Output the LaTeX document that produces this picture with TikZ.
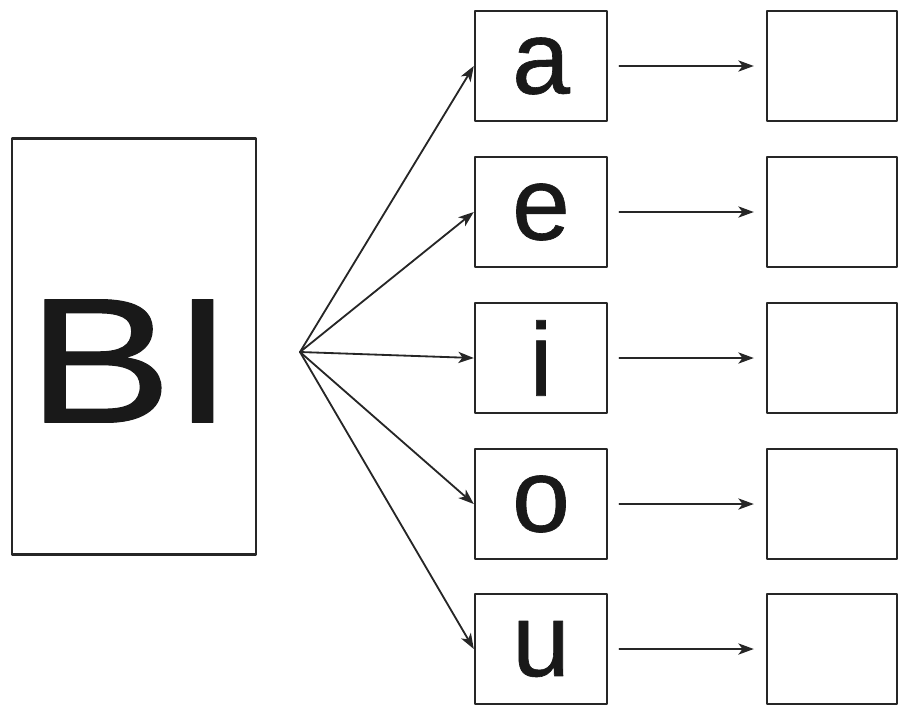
\documentclass[tikz,border=0pt]{standalone}
\usepackage{fontspec}
\setmainfont{Liberation Sans}
\newfontfamily\heavysans[FakeBold=0.6]{Liberation Sans}
\usetikzlibrary{arrows.meta,positioning}

\begin{document}
\begin{tikzpicture}[
  x=0.025cm,y=-0.025cm,
  line cap=round,
  line join=round,
  ink/.style={black!90},
  bigbox/.style={draw=black!85,line width=1.9pt,minimum width=6.1cm,
    minimum height=10.4cm,inner sep=0pt},
  vowelbox/.style={draw=black!85,line width=1.7pt,minimum width=3.3cm,
    minimum height=2.75cm,inner sep=0pt,
    font=\heavysans\fontsize{74}{80}\selectfont,text=black!90},
  emptybox/.style={draw=black!85,line width=1.7pt,minimum width=3.25cm,
    minimum height=2.75cm,inner sep=0pt},
  fanarrow/.style={black!85,line width=1.3pt,
    -{Stealth[length=11pt,width=8pt,inset=3pt]}},
  shortarrow/.style={fanarrow,shorten <=0.28cm,shorten >=0.3cm}
]
\path[use as bounding box] (0,0) rectangle (898,705);

% left block
\node[bigbox] (bi) at (134,346.5) {};
\node[ink,xscale=1.22,font=\heavysans\fontsize{127}{130}\selectfont]
  (bitext) at (130,361) {BI};
\coordinate (hub) at (300,352);

% vowel boxes
\node[vowelbox] (va) at (541,66)  {a};
\node[vowelbox] (ve) at (541,212) {e};
\node[vowelbox] (vi) at (541,358) {i};
\node[vowelbox] (vo) at (541,504) {o};
\node[vowelbox] (vu) at (541,649) {u};

% empty answer boxes
\node[emptybox] (ra) at (832,66)  {};
\node[emptybox] (re) at (832,212) {};
\node[emptybox] (ri) at (832,358) {};
\node[emptybox] (ro) at (832,504) {};
\node[emptybox] (ru) at (832,649) {};

% fan from BI
\draw[fanarrow] (hub) -- (va.west);
\draw[fanarrow] (hub) -- (ve.west);
\draw[fanarrow] (hub) -- (vi.west);
\draw[fanarrow] (hub) -- (vo.west);
\draw[fanarrow] (hub) -- (vu.west);

% vowel to answer
\draw[shortarrow] (va) -- (ra);
\draw[shortarrow] (ve) -- (re);
\draw[shortarrow] (vi) -- (ri);
\draw[shortarrow] (vo) -- (ro);
\draw[shortarrow] (vu) -- (ru);
\end{tikzpicture}
\end{document}
